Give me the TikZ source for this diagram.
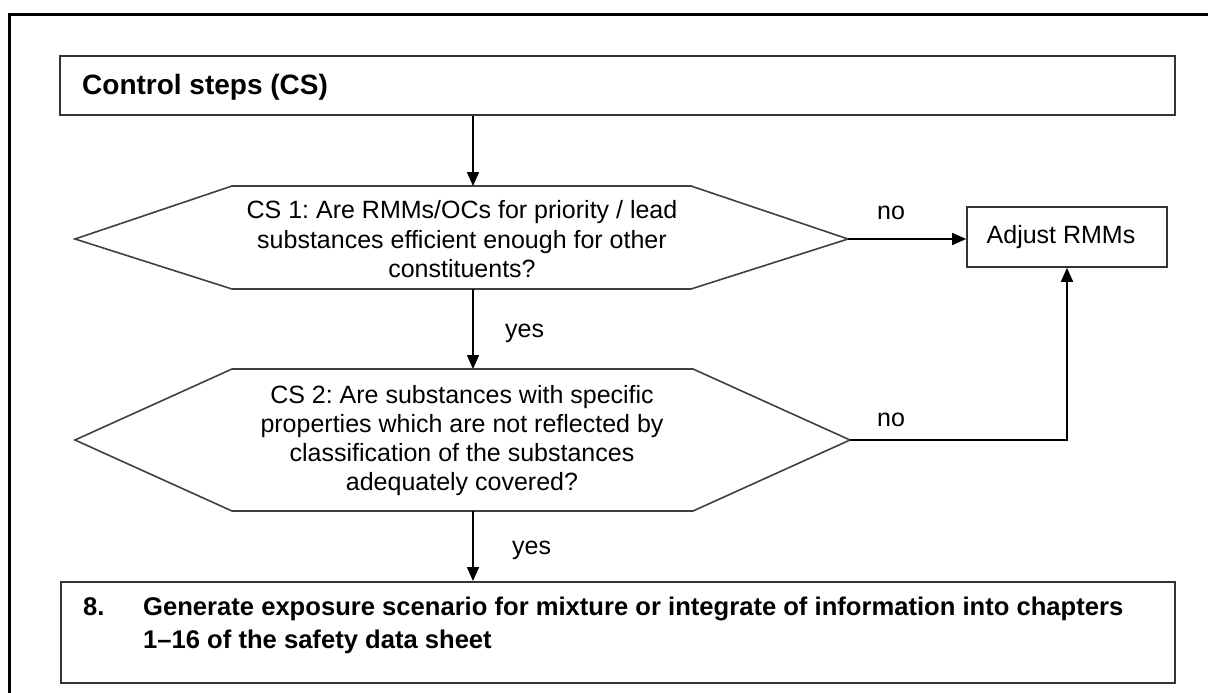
\documentclass[tikz,border=0pt]{standalone}
\usepackage{fontspec}
\setmainfont{Liberation Sans}
\usetikzlibrary{arrows.meta}
\frenchspacing
\begin{document}
\begin{tikzpicture}[x=1pt,y=-1pt,
  box/.style={draw=black!80, line width=1.6pt, inner sep=0pt},
  hexa/.style={draw=black!75, line width=1.6pt, line join=miter},
  conn/.style={draw=black, line width=1.6pt, -{Triangle[length=14pt,width=12pt]}},
  qtext/.style={align=center, font=\fontsize{25}{29.5}\selectfont, inner sep=0pt},
  lbl/.style={font=\fontsize{25}{30}\selectfont, inner sep=0pt}
]
\useasboundingbox (0,0) rectangle (1208,693);
% outer frame (open to the right and bottom)
\draw[line width=3pt] (9,694) -- (9,15) -- (1210,15);

% top box
\node[box, anchor=north west, minimum width=1115pt, minimum height=59pt] (top) at (59,55) {};
\node[anchor=base west, inner sep=0pt, font=\bfseries\fontsize{28}{30}\selectfont] (toptxt) at (82,95) {Control steps (CS)};

% decision 1
\draw[hexa] (75,239) -- (232,186) -- (691,186) -- (848,239) -- (691,289) -- (232,289) -- cycle;
\coordinate (h1t) at (473,186);
\coordinate (h1b) at (473,289);
\coordinate (h1r) at (848,239);
\node[qtext] (q1) at (462,239.5) {CS 1: Are RMMs/OCs for priority / lead\\substances efficient enough for other\\constituents?};

% decision 2
\draw[hexa] (75,440) -- (232,369) -- (693,369) -- (850,440) -- (693,511) -- (232,511) -- cycle;
\coordinate (h2t) at (473,369);
\coordinate (h2b) at (473,511);
\coordinate (h2r) at (850,440);
\node[qtext, font=\fontsize{25}{29}\selectfont] (q2) at (462,441) {CS 2: Are substances with specific\\properties which are not reflected by\\classification of the substances\\adequately covered?};

% adjust box
\node[box, minimum width=200pt, minimum height=60pt, font=\fontsize{25}{30}\selectfont] (adj) at (1067,237) {\hspace*{-12pt}Adjust RMMs};

% final box
\node[box, anchor=north west, minimum width=1114pt, minimum height=101pt] (fin) at (60,581) {};
\node[anchor=base west, inner sep=0pt, font=\bfseries\fontsize{25.6}{33}\selectfont] (n8) at (83,615) {8.};
\node[anchor=north west, align=left, inner sep=0pt, font=\bfseries\fontsize{25.6}{33}\selectfont] (fintxt) at (143,596.3) {Generate exposure scenario for mixture or integrate of information into chapters\\1--16 of the safety data sheet};

% connectors
\draw[conn] (top.south -| h1t) -- (h1t);
\draw[conn] (h1b) -- (h2t);
\draw[conn] (h2b) -- (fin.north -| h2b);
\draw[conn] (h1r) -- (h1r -| adj.west);
\draw[conn] (h2r) -| (adj.south);

% labels
\node[lbl, anchor=base] (no1) at (891,219) {no};
\node[lbl, anchor=base] (no2) at (891,426) {no};
\node[lbl, anchor=base west] (yes1) at (505,337) {yes};
\node[lbl, anchor=base west] (yes2) at (512,554) {yes};
\end{tikzpicture}
\end{document}
